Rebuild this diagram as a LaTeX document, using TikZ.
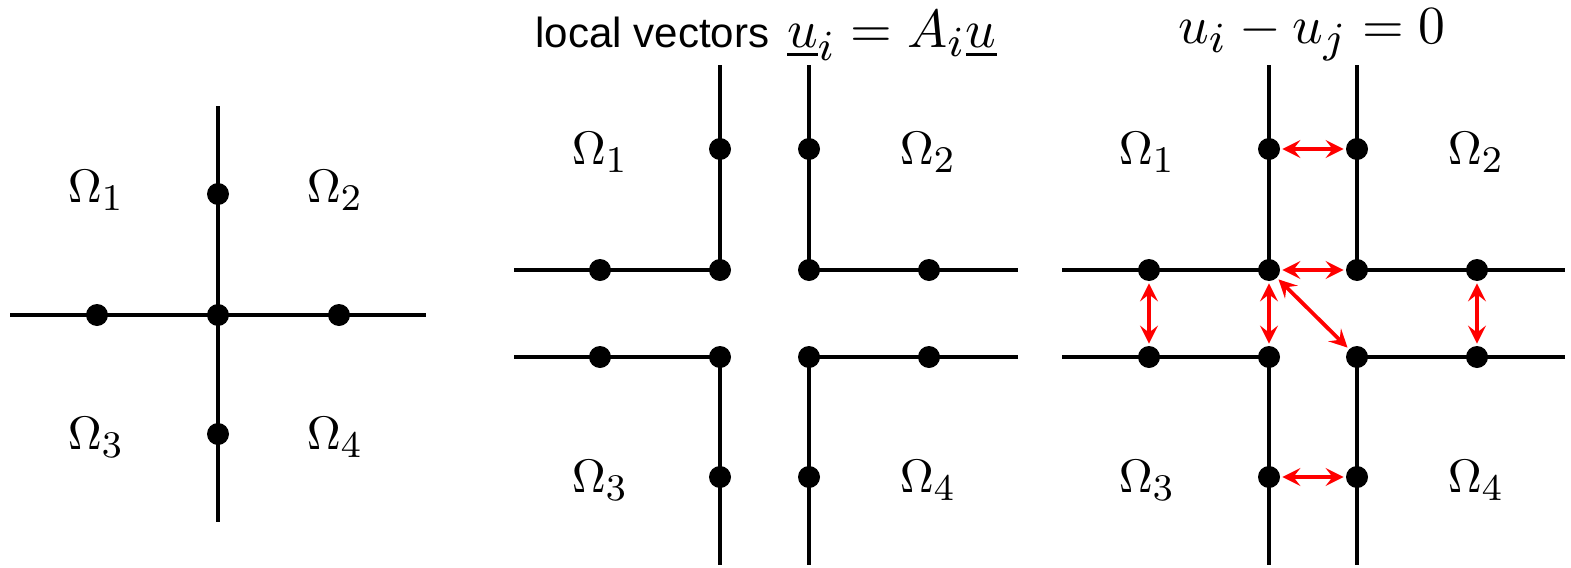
\documentclass[tikz,border=0pt]{standalone}
\usepackage{fontspec}
\newfontfamily\titlefont{Liberation Sans}
\DeclareMathSizes{10}{10}{8}{6}
\usetikzlibrary{arrows.meta}
\tikzset{
  seg/.style={line width=1.75pt, line cap=butt},
  dot/.style={circle, fill=black, inner sep=0pt, minimum size=11pt},
  lab/.style={font=\fontsize{10}{12}\selectfont, inner sep=0pt, scale=2.35},
  ttl/.style={font=\fontsize{10}{12}\selectfont, inner sep=0pt, scale=2.68},
  link/.style={draw=red, line width=1.9pt, {Stealth[length=9pt,width=9pt,inset=3.5pt]}-{Stealth[length=9pt,width=9pt,inset=3.5pt]}, shorten <=1pt, shorten >=1pt}
}
\begin{document}
\begin{tikzpicture}[x=0.5pt,y=-0.5pt]
\useasboundingbox (0,0) rectangle (1571,568);
% ---------- left panel ----------
\coordinate (Lt) at (218,106); \coordinate (Lb) at (218,522);
\coordinate (Ll) at (10,315);  \coordinate (Lr) at (426,315);
\draw[seg] (Lt) -- (Lb);
\draw[seg] (Ll) -- (Lr);
\node[dot] (L1) at (218,194) {};
\node[dot] (L2) at (97,315) {};
\node[dot] (L3) at (218,315) {};
\node[dot] (L4) at (339,315) {};
\node[dot] (L5) at (218,434) {};
\node[lab] (Lo1) at (96,190) {$\Omega_1$};
\node[lab] (Lo2) at (335,190) {$\Omega_2$};
\node[lab] (Lo3) at (96,437) {$\Omega_3$};
\node[lab] (Lo4) at (335,437) {$\Omega_4$};
% ---------- middle panel ----------
\node[ttl, anchor=base] (Mt) at (766,47) {{\titlefont\fontsize{7.85}{9}\selectfont local vectors} $\underline{u}_i = A_i\underline{u}$};
\coordinate (Ma1) at (720,65);  \coordinate (Ma2) at (720,270); \coordinate (Ma3) at (514,270);
\coordinate (Mb1) at (809,65);  \coordinate (Mb2) at (809,270); \coordinate (Mb3) at (1018,270);
\coordinate (Mc1) at (514,357); \coordinate (Mc2) at (720,357); \coordinate (Mc3) at (720,565);
\coordinate (Md1) at (1018,357);\coordinate (Md2) at (809,357); \coordinate (Md3) at (809,565);
\draw[seg] (Ma1) -- (Ma2) -- (Ma3);
\draw[seg] (Mb1) -- (Mb2) -- (Mb3);
\draw[seg] (Mc1) -- (Mc2) -- (Mc3);
\draw[seg] (Md1) -- (Md2) -- (Md3);
\foreach \n/\x/\y in {m1/720/149, m2/809/149, m3/600/270, m4/720/270, m5/809/270, m6/929/270,
  m7/600/357, m8/720/357, m9/809/357, m10/929/357, m11/720/477, m12/809/477}
  \node[dot] (\n) at (\x,\y) {};
\node[lab] (Mo1) at (600,152) {$\Omega_1$};
\node[lab] (Mo2) at (928,152) {$\Omega_2$};
\node[lab] (Mo3) at (600,480) {$\Omega_3$};
\node[lab] (Mo4) at (928,480) {$\Omega_4$};
% ---------- right panel ----------
\node[ttl, anchor=base] (Rt) at (1312,43) {$u_i - u_j = 0$};
\coordinate (Ra1) at (1269,65);  \coordinate (Ra2) at (1269,270); \coordinate (Ra3) at (1062,270);
\coordinate (Rb1) at (1357,65);  \coordinate (Rb2) at (1357,270); \coordinate (Rb3) at (1565,270);
\coordinate (Rc1) at (1062,357); \coordinate (Rc2) at (1269,357); \coordinate (Rc3) at (1269,565);
\coordinate (Rd1) at (1565,357); \coordinate (Rd2) at (1357,357); \coordinate (Rd3) at (1357,565);
\draw[seg] (Ra1) -- (Ra2) -- (Ra3);
\draw[seg] (Rb1) -- (Rb2) -- (Rb3);
\draw[seg] (Rc1) -- (Rc2) -- (Rc3);
\draw[seg] (Rd1) -- (Rd2) -- (Rd3);
\foreach \n/\x/\y in {r1/1269/149, r2/1357/149, r3/1149/270, r4/1269/270, r5/1357/270, r6/1477/270,
  r7/1149/357, r8/1269/357, r9/1357/357, r10/1477/357, r11/1269/477, r12/1357/477}
  \node[dot] (\n) at (\x,\y) {};
\node[lab] (Ro1) at (1147,152) {$\Omega_1$};
\node[lab] (Ro2) at (1476,152) {$\Omega_2$};
\node[lab] (Ro3) at (1147,480) {$\Omega_3$};
\node[lab] (Ro4) at (1476,480) {$\Omega_4$};
\draw[link] (r1) -- (r2);
\draw[link] (r4) -- (r5);
\draw[link] (r3) -- (r7);
\draw[link] (r4) -- (r8);
\draw[link] (r4) -- (r9);
\draw[link] (r6) -- (r10);
\draw[link] (r11) -- (r12);
\end{tikzpicture}
\end{document}
